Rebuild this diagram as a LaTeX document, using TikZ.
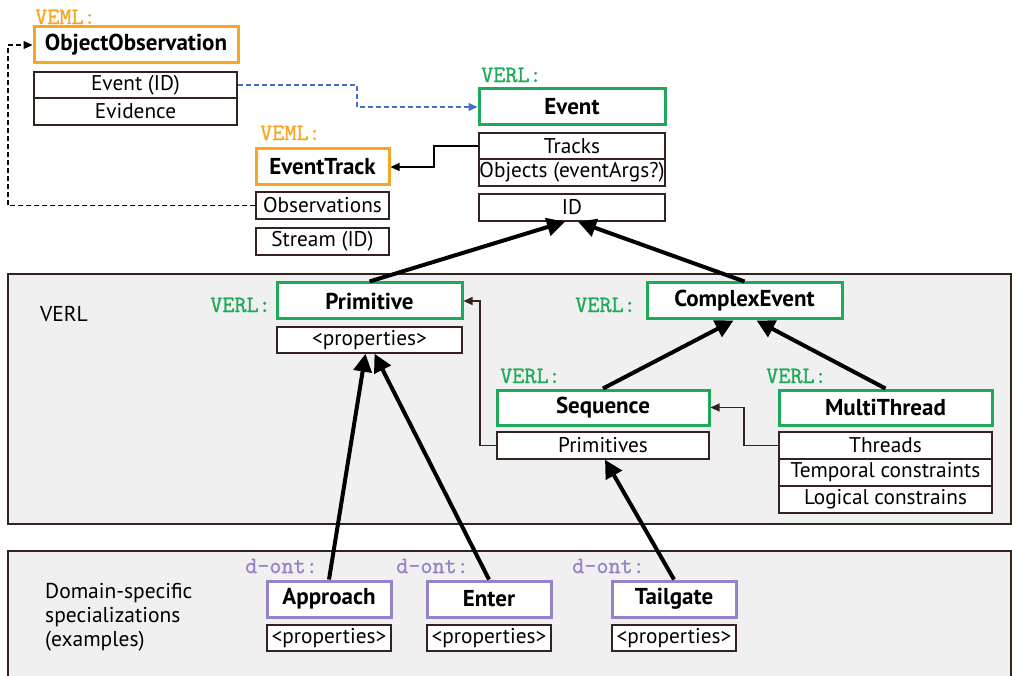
\documentclass[tikz,border=0pt]{standalone}
\usepackage{fontspec}
\setmainfont{PT Sans}
\newfontfamily\monof[FakeBold=1.2]{Latin Modern Mono}
\usetikzlibrary{arrows.meta,calc}
\definecolor{vorange}{RGB}{247,166,35}
\definecolor{vgreen}{RGB}{30,170,90}
\definecolor{vpurple}{RGB}{150,130,200}
\definecolor{vblue}{RGB}{70,110,210}
\definecolor{vbrown}{RGB}{50,35,30}
\definecolor{vpanel}{RGB}{240,240,240}
\tikzset{
  hdr/.style={draw, line width=3pt, fill=white, inner sep=0pt, font=\fontsize{23}{26}\selectfont\bfseries},
  prop/.style={draw=vbrown, line width=1.4pt, fill=white, inner sep=0pt, font=\fontsize{21.3}{24}\selectfont},
  lbl/.style={inner sep=0pt, font=\monof\bfseries\fontsize{23.5}{25}\selectfont},
  panel/.style={fill=vpanel, draw=vbrown, line width=1.3pt},
  plain/.style={inner sep=0pt, font=\fontsize{21.5}{24}\selectfont},
  big/.style={line width=4pt, -{Triangle[length=18pt,width=18pt]}},
  thin/.style={draw=vbrown, line width=1.2pt, -{Triangle[length=9pt,width=8pt]}},
}
\begin{document}
\begin{tikzpicture}[x=1pt,y=-1pt]
\useasboundingbox (0,0) rectangle (1012,676);
% panels
\draw[panel] (8,274) rectangle (1011,524);
\fill[vpanel] (8,551) rectangle (1011,690);
\draw[vbrown, line width=1.3pt] (8,690) -- (8,551) -- (1011,551) -- (1011,690);
\node[plain, anchor=west] (verltxt) at (40,314) {VERL};
\node[plain, anchor=north west, align=left] (domtxt) at (45,583) {Domain-specific\\specializations\\(examples)};

% VEML ObjectObservation
\node[lbl, vorange, anchor=west] (l1) at (35,17) {VEML:};
\node[hdr, draw=vorange, minimum width=204, minimum height=36] (oo) at (136,45) {ObjectObservation};
\node[prop, minimum width=203, minimum height=26] (evid) at (135.5,85) {Event (ID)};
\node[prop, minimum width=203, minimum height=27] (evidence) at (135.5,111.5) {Evidence};

% EventTrack
\node[lbl, vorange, anchor=west] (l2) at (260,133) {VEML:};
\node[hdr, draw=vorange, minimum width=133, minimum height=36] (et) at (322.5,167) {EventTrack};
\node[prop, minimum width=133, minimum height=27] (obs) at (322.5,205.5) {Observations};
\node[prop, minimum width=133, minimum height=27] (stream) at (322.5,241.5) {Stream (ID)};

% Event
\node[lbl, vgreen, anchor=west] (l3) at (481,75) {VERL:};
\node[hdr, draw=vgreen, minimum width=186, minimum height=36] (ev) at (572,107) {Event};
\node[prop, minimum width=186, minimum height=26] (tracks) at (572,146) {Tracks};
\node[prop, minimum width=186, minimum height=27] (objs) at (572,172.5) {Objects (eventArgs?)};
\node[prop, minimum width=186, minimum height=27] (id) at (572,207.5) {ID};

% Primitive
\node[lbl, vgreen, anchor=east] (l4) at (271,305) {VERL:};
\node[hdr, draw=vgreen, minimum width=185, minimum height=36] (prim) at (369.5,301) {Primitive};
\node[prop, minimum width=185, minimum height=26] (pprops) at (369.5,340) {<properties>};

% ComplexEvent
\node[lbl, vgreen, anchor=east] (l5) at (636,305) {VERL:};
\node[hdr, draw=vgreen, minimum width=195, minimum height=36] (ce) at (744.5,301) {ComplexEvent};

% Sequence
\node[lbl, vgreen, anchor=west] (l6) at (500,376) {VERL:};
\node[hdr, draw=vgreen, minimum width=212, minimum height=35] (seq) at (603,407.5) {Sequence};
\node[prop, minimum width=212, minimum height=27] (prims) at (603,445.5) {Primitives};

% MultiThread
\node[lbl, vgreen, anchor=west] (l7) at (766,376) {VERL:};
\node[hdr, draw=vgreen, minimum width=213, minimum height=35] (mt) at (885.5,407.5) {MultiThread};
\node[prop, minimum width=213, minimum height=27] (threads) at (885.5,445.5) {Threads};
\node[prop, minimum width=213, minimum height=27] (temp) at (885.5,472.5) {Temporal constraints};
\node[prop, minimum width=213, minimum height=27] (logic) at (885.5,499.5) {Logical constrains};

% Domain
\node[lbl, vpurple, anchor=west] (l8) at (245,566) {d-ont:};
\node[hdr, draw=vpurple, minimum width=124, minimum height=36] (appr) at (329,599) {Approach};
\node[prop, minimum width=124, minimum height=26] (aprops) at (329,638) {<properties>};
\node[lbl, vpurple, anchor=west] (l9) at (396,566) {d-ont:};
\node[hdr, draw=vpurple, minimum width=124, minimum height=36] (ent) at (489,599) {Enter};
\node[prop, minimum width=124, minimum height=26] (eprops) at (489,638) {<properties>};
\node[lbl, vpurple, anchor=west] (l10) at (572,566) {d-ont:};
\node[hdr, draw=vpurple, minimum width=124, minimum height=36] (tail) at (674,599) {Tailgate};
\node[prop, minimum width=124, minimum height=26] (tprops) at (674,638) {<properties>};

% junction coordinates
\coordinate (dl) at (8,0);
\coordinate (bj) at (357,0);
\coordinate (tj) at (434,0);
\coordinate (pj) at (480,0);
\coordinate (sj) at (744,0);

% thin connectors
\draw[line width=1.2pt, dash pattern=on 5pt off 3pt, -{Triangle[length=9pt,width=8pt]}] (obs.west) -- (obs.west -| dl) |- (oo.west);
\draw[vblue, line width=1.2pt, dash pattern=on 5pt off 3pt, -{Triangle[length=9pt,width=8pt]}] (evid.east) -- (evid.east -| bj) |- (ev.west);
\draw[thin, draw=black] (tracks.west) -- (tracks.west -| tj) |- (et.east);
\draw[thin] (prims.west) -- (prims.west -| pj) |- (prim.east);
\draw[thin] (threads.west) -- (threads.west -| sj) |- (seq.east);

% thick generalization arrows
\draw[big] (prim.north) -- ([xshift=-7pt]id.south);
\draw[big] (ce.north) -- ([xshift=6pt]id.south);
\draw[big] (seq.north) -- ([xshift=-11pt]ce.south);
\draw[big] (mt.north) -- ([xshift=12pt]ce.south);
\draw[big] (appr.north) -- ([xshift=-4pt]pprops.south);
\draw[big] (ent.north) -- ([xshift=5pt]pprops.south);
\draw[big] (tail.north) -- ([xshift=2pt]prims.south);
\end{tikzpicture}
\end{document}
